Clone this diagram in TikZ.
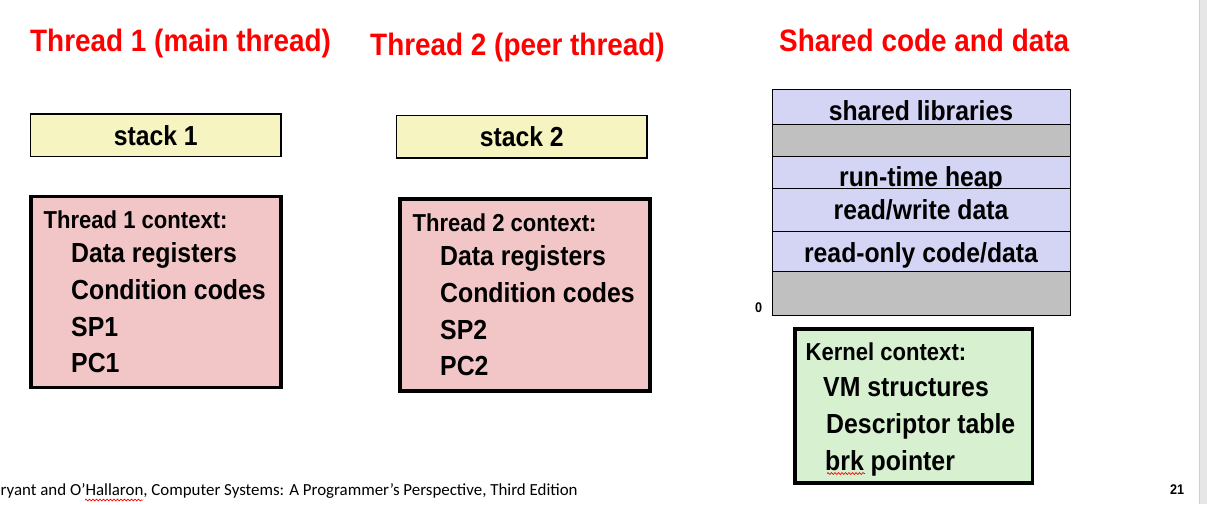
\documentclass[tikz,border=0pt]{standalone}
\usepackage{fontspec}
\setmainfont{Liberation Sans}[FakeStretch=0.9]
\newfontfamily\footfont{Carlito}
\usepackage{tikz}
\usetikzlibrary{decorations.pathmorphing}

\definecolor{stackyellow}{HTML}{F6F5C1}
\definecolor{ctxpink}{HTML}{F2C6C6}
\definecolor{memblue}{HTML}{D4D4F5}
\definecolor{memgray}{HTML}{C0C0C0}
\definecolor{kerngreen}{HTML}{D6F0D0}
\definecolor{stripgray}{HTML}{E6E6E6}
\definecolor{stripline}{HTML}{CFCFCF}

\tikzset{
  titletext/.style={anchor=base west, inner sep=0pt, text=red, font=\fontsize{31}{31}\selectfont\bfseries},
  headtext/.style={anchor=base west, inner sep=0pt, font=\fontsize{24.5}{24.5}\selectfont\bfseries},
  itemtext/.style={anchor=base west, inner sep=0pt, font=\fontsize{27.6}{27.6}\selectfont\bfseries},
  memtext/.style={anchor=base, inner sep=0pt, font=\fontsize{27.5}{27.5}\selectfont\bfseries},
  stackbox/.style={draw, line width=1.3pt, fill=stackyellow, anchor=north west, outer sep=0pt, inner sep=0pt,
    minimum width=250.5pt, minimum height=42.5pt, font=\fontsize{27.5}{27.5}\selectfont\bfseries},
  ctxbox/.style={draw, line width=3.4pt, anchor=north west, outer sep=0pt, inner sep=0pt},
  memrow/.style={draw, line width=1pt, anchor=north west, outer sep=0pt, inner sep=0pt, minimum width=297.7pt},
  spellmark/.style={red, line width=0.7pt, decorate, decoration={snake, segment length=3.5pt, amplitude=0.9pt}}
}

\begin{document}
\begin{tikzpicture}[x=1pt, y=-1pt]
\fill[white] (0,0) rectangle (1207,504);
\useasboundingbox (0,0) rectangle (1207,504);
\fill[stripgray] (1199,0) rectangle (1207,504);
\draw[stripline] (1199,0) -- (1199,504);

\node[titletext] (title1) at (30,51.7) {Thread 1 (main thread)};
\node[titletext] (title2) at (370,55) {Thread 2 (peer thread)};
\node[titletext] (title3) at (779,51.7) {Shared code and data};

\node[stackbox] (stack1) at (30.5,114) {stack 1};
\node[stackbox] (stack2) at (396.5,115.5) {stack 2};

\node[ctxbox, fill=ctxpink, minimum width=250pt, minimum height=191pt] (ctx1) at (31,196.7) {};
\node[headtext] (ctx1head) at (43.5,228.3) {Thread 1 context:};
\node[itemtext] (ctx1data) at (71,262) {Data registers};
\node[itemtext] (ctx1cond) at (71,299) {Condition codes};
\node[itemtext] (ctx1sp) at (71,336) {SP1};
\node[itemtext] (ctx1pc) at (71,372) {PC1};

\node[ctxbox, fill=ctxpink, minimum width=250pt, minimum height=192pt] (ctx2) at (400,199) {};
\node[headtext] (ctx2head) at (412.5,231.3) {Thread 2 context:};
\node[itemtext] (ctx2data) at (440,265) {Data registers};
\node[itemtext] (ctx2cond) at (440,302) {Condition codes};
\node[itemtext] (ctx2sp) at (440,339) {SP2};
\node[itemtext] (ctx2pc) at (440,375) {PC2};

\node[memrow, fill=memblue, minimum height=34.7pt] (libs) at (772.3,89.3) {};
\node[memtext] (libstext) at (921,120.5) {shared libraries};
\node[memrow, fill=memgray, minimum height=32.7pt] (gapa) at (772.3,124) {};
\node[memrow, fill=memblue, minimum height=31.6pt] (heap) at (772.3,156.7) {};
\node[memtext] (heaptext) at (921,186.5) {run-time heap};
\node[memrow, fill=memblue, minimum height=43.4pt] (rwdata) at (772.3,188.3) {};
\node[memtext] (rwtext) at (921,219) {read/write data};
\node[memrow, fill=memblue, minimum height=40pt] (rodata) at (772.3,231.7) {};
\node[memtext] (rotext) at (921,262) {read-only code/data};
\node[memrow, fill=memgray, minimum height=43.3pt] (gapb) at (772.3,271.7) {};
\node[anchor=base west, inner sep=0pt, font=\fontsize{14}{14}\selectfont\bfseries] (zero) at (755,312) {0};

\node[ctxbox, fill=kerngreen, minimum width=237.3pt, minimum height=154pt] (kern) at (795,329) {};
\node[headtext] (kernhead) at (805.5,360) {Kernel context:};
\node[itemtext] (kernvm) at (823,396) {VM structures};
\node[itemtext] (kerndesc) at (826,433) {Descriptor table};
\node[itemtext] (kernbrk) at (825,470) {brk pointer};
\draw[spellmark] (827,473.5) -- (865,473.5);

\node[anchor=base west, inner sep=0pt, font=\footfont\fontsize{16.9}{16.9}\selectfont] (credit) at (0.5,495) {ryant and O’Hallaron, Computer Systems: A Programmer’s Perspective, Third Edition};
\draw[spellmark] (85,500) -- (143,500);
\node[anchor=base west, inner sep=0pt, font=\fontsize{14}{14}\selectfont\bfseries] (pageno) at (1170,494) {21};
\end{tikzpicture}
\end{document}
